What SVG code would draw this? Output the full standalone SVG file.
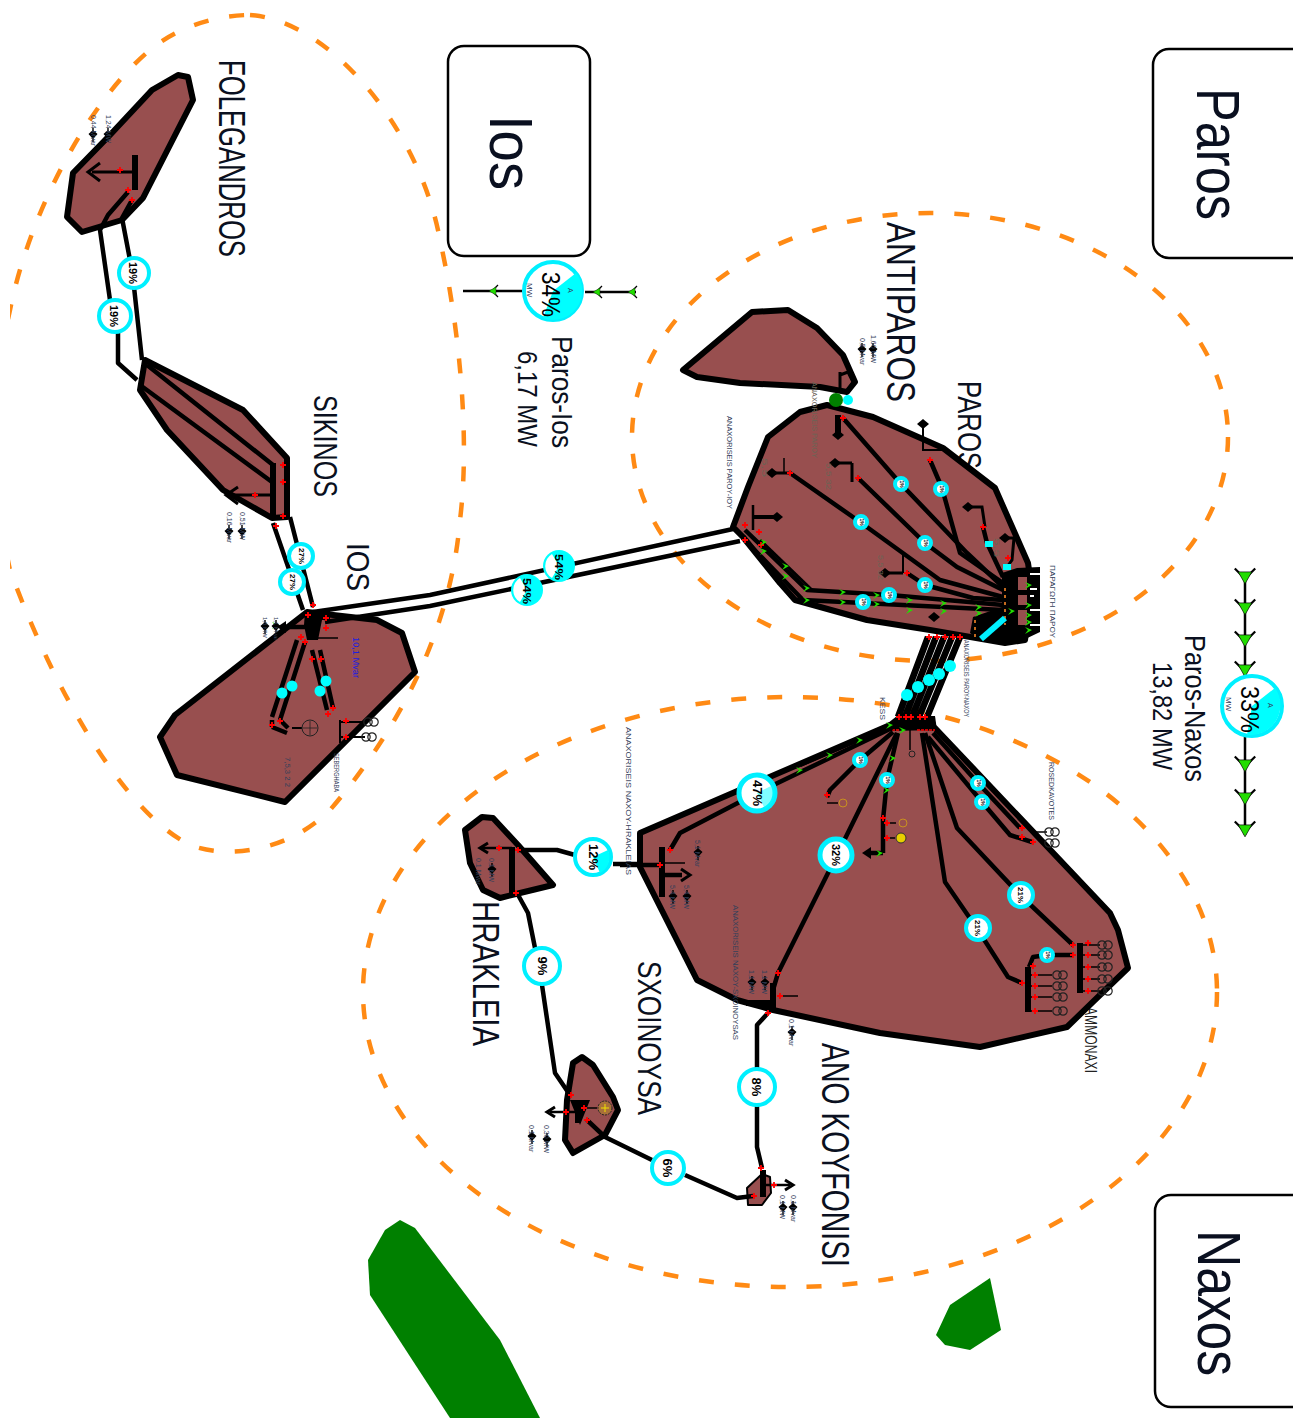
<svg xmlns="http://www.w3.org/2000/svg" width="1293" height="1418" viewBox="0 0 1293 1418">
<style>
text{font-family:"Liberation Sans",Arial,sans-serif;fill:#0a1020}
.big{font-size:62px}.reg{font-size:36px}.cap{font-size:29px}
.sm{font-size:7px;fill:#33405a}.gr{font-size:7px;fill:#6b6355}
.poly{fill:#984f4f;stroke:#000;stroke-width:6;stroke-linejoin:round}
.box{fill:#fff;stroke:#000;stroke-width:2.5}
.dash{fill:none;stroke:#ff8a14;stroke-width:4.5;stroke-dasharray:15 21}
.ln{fill:none;stroke:#000;stroke-width:4.5;stroke-linejoin:round}
.th{fill:none;stroke:#000;stroke-width:1.5}
.bus{fill:none;stroke:#000;stroke-width:6}
.gauge{fill:#fff;stroke:#00f0ff;stroke-width:4}
.thick{stroke-width:5}
.pie{fill:#00ffff}
.pct{font-weight:bold;fill:#000}
.dot{fill:#00ffff}
.open{fill:none;stroke:#000;stroke-width:3}
.bl{fill:#000}
</style>
<defs>
<clipPath id="page"><rect x="10" y="0" width="1283" height="1418"/></clipPath>
<g id="x"><path d="M-3 0H3M0-3V3" stroke="#f00" stroke-width="1.8"/></g>
<g id="ga"><path d="M-6-5L0 1L6-5" fill="none" stroke="#000" stroke-width="1.3"/><path d="M-4-3H4L0 4Z" fill="#22dd00" stroke="#000" stroke-width=".4"/></g>
<g id="gs"><path d="M-4-3L3 0L-4 4L-1 0Z" fill="#22dd00"/></g>
<g id="di"><path d="M0-7V7M-3.5-1L0-4L3.5-1L0 3Z" stroke="#000" stroke-width="1.4" fill="#000"/></g>
<g id="gen"><circle cx="-3" cy="0" r="4.2" fill="none" stroke="#222" stroke-width="1.2"/><circle cx="3" cy="0" r="4.2" fill="none" stroke="#222" stroke-width="1.2"/></g>
<g id="ah"><path d="M0 0L9-6V6Z" fill="#000"/></g>
<path id="hd" d="M-6 0L0-5L6 0L0 5Z" fill="#000"/>
</defs>

<g id="background-shapes">
<path fill="#008000" d="M400 1220L415 1228L500 1340L540 1418H450L370 1295L368 1260L385 1230Z"/>
<path fill="#008000" d="M990 1278L1001 1330L970 1350L945 1345L936 1335L950 1305Z"/>
<g clip-path="url(#page)">
<path class="dash" d="M250 15C330 20 420 130 440 240C460 330 470 440 460 520C450 640 390 740 330 810C290 850 230 860 190 845C120 810 50 680 10 570C-10 480-10 400 10 310C30 210 90 100 150 50C180 25 220 15 250 15Z"/>
</g>
<ellipse class="dash" cx="930" cy="437" rx="298" ry="224"/>
<ellipse class="dash" cx="790" cy="992" rx="427" ry="295"/>
</g>

<g id="titles">
<g id="box-paros"><rect class="box" x="1153" y="49" width="160" height="209" rx="16"/><text class="big" transform="translate(1197 88) rotate(90)" textLength="132" lengthAdjust="spacingAndGlyphs">Paros</text></g>
<g id="box-ios"><rect class="box" x="448" y="46" width="142" height="210" rx="16"/><text class="big" transform="translate(490 115) rotate(90)" textLength="75" lengthAdjust="spacingAndGlyphs">Ios</text></g>
<g id="box-naxos"><rect class="box" x="1155" y="1195" width="160" height="212" rx="16"/><text class="big" transform="translate(1198 1230) rotate(90)" textLength="146" lengthAdjust="spacingAndGlyphs">Naxos</text></g>
<text class="reg" transform="translate(219 60) rotate(90)" textLength="197" lengthAdjust="spacingAndGlyphs">FOLEGANDROS</text>
<text class="reg" style="font-size:40px" transform="translate(887 222) rotate(90)" textLength="180" lengthAdjust="spacingAndGlyphs">ANTIPAROS</text>
<text class="reg" style="font-size:34px" transform="translate(958 381) rotate(90)" textLength="88" lengthAdjust="spacingAndGlyphs">PAROS</text>
<text class="reg" style="font-size:34px" transform="translate(314 395) rotate(90)" textLength="102" lengthAdjust="spacingAndGlyphs">SIKINOS</text>
<text class="reg" style="font-size:32px" transform="translate(347 543) rotate(90)" textLength="48" lengthAdjust="spacingAndGlyphs">IOS</text>
<text class="reg" transform="translate(473 901) rotate(90)" textLength="145" lengthAdjust="spacingAndGlyphs">HRAKLEIA</text>
<text class="reg" style="font-size:33px" transform="translate(638 961) rotate(90)" textLength="154" lengthAdjust="spacingAndGlyphs">SXOINOYSA</text>
<text class="reg" style="font-size:38px" transform="translate(822 1043) rotate(90)" textLength="224" lengthAdjust="spacingAndGlyphs">ANO KOYFONISI</text>
<text style="font-size:16px;fill:#222" transform="translate(1085 1007) rotate(90)" textLength="66" lengthAdjust="spacingAndGlyphs">AMMONAXI</text>
<text class="cap" transform="translate(552 336) rotate(90)" textLength="112" lengthAdjust="spacingAndGlyphs">Paros-Ios</text>
<text class="cap" style="font-size:28px" transform="translate(518 351) rotate(90)" textLength="96" lengthAdjust="spacingAndGlyphs">6,17 MW</text>
<text class="cap" style="font-size:30px" transform="translate(1185 635) rotate(90)" textLength="147" lengthAdjust="spacingAndGlyphs">Paros-Naxos</text>
<text class="cap" style="font-size:28px" transform="translate(1153 662) rotate(90)" textLength="108" lengthAdjust="spacingAndGlyphs">13,82 MW</text>
</g>

<g id="node-antiparos"><path class="poly" d="M683 370L752 312L788 310L817 328L843 355L855 382L847 392L820 387L740 383L697 377Z"/></g>
<g id="node-paros"><path class="poly" d="M733 527L748 487L768 437L800 412L827 405L873 417L943 448L995 488L1028 563L1032 590L1025 640L1005 643L930 630L867 620L795 600L780 583L743 537Z"/></g>
<g id="node-naxos"><path class="poly" d="M640 833L890 725L935 728L1110 913L1118 930L1128 968L1100 995L1067 1027L980 1047L880 1033L773 1010L737 1000L697 980L640 867Z"/></g>
<g id="node-heraklia"><path class="poly" d="M465 830L482 817L493 818L518 845L553 885L520 893L500 898L483 890L470 863Z"/></g>
<g id="node-schoinoussa"><path class="poly" d="M573 1063L582 1057L593 1065L613 1097L618 1110L605 1135L573 1153L565 1140L567 1100Z"/></g>
<g id="node-koufonisi"><path class="poly" d="M747 1188L762 1174L770 1177L771 1193L762 1205L748 1205Z" style="stroke-width:2"/></g>
<g id="node-ios"><path class="poly" d="M160 737L175 715L307 612L377 620L402 633L415 672L285 802L177 775Z"/></g>
<g id="node-sikinos"><path class="poly" d="M145 360L243 410L287 458L287 517L272 518L223 490L167 430L140 390Z"/></g>
<g id="node-folegandros"><path class="poly" d="M178 75L188 77L193 100L143 198L122 220L82 232L67 217L73 173L110 135L152 90Z"/></g>

<g id="connectors">
<path class="ln" d="M843 418L900 483L967 553L1003 587"/>
<path class="ln" d="M930 460L942 488L960 553L1003 583"/>
<path class="ln" d="M858 478L925 543L957 567L1003 590"/>
<path class="ln" d="M790 473L860 522L940 580L1003 597"/>
<path class="ln" d="M907 573L925 585L973 598L1003 600"/>
<path class="ln" d="M745 530L807 590L890 595L1003 605"/>
<path class="ln" d="M745 540L803 600L863 603L1003 610"/>
<path class="th" style="stroke-width:3" d="M760 540L812 590"/>
<path class="ln" d="M983 527L987 543L1003 577"/>
<path class="open" d="M970 507H982L985 527"/><path class="open" d="M1005 538H1014L1012 560L1007 567"/>
<path class="th" d="M784 473V458"/><path class="open" d="M790 473H772"/>
<path class="open" d="M852 463V482M852 463H835"/><path class="th" style="stroke-width:2" d="M903 555V573"/><path class="open" d="M903 573H885"/>
<path class="th" style="stroke-width:2" d="M923 425V450H942"/>
<path class="bus" d="M838 415V433"/>
<path class="open" style="stroke-width:4" d="M752 517H775"/><path class="th" style="stroke-width:2.5" d="M753 505V530"/>
<path class="ln" style="stroke-width:3" d="M840 375L848 372L853 382L848 390M840 372V388"/>
<use href="#hd" transform="translate(838 435) rotate(0)"/><use href="#hd" x="923" y="424"/><use href="#hd" x="772" y="473"/><use href="#hd" x="835" y="463"/><use href="#hd" x="885" y="573"/><use href="#hd" x="968" y="507"/><use href="#hd" x="1005" y="538"/><use href="#hd" x="934" y="617"/><use href="#hd" x="777" y="517"/>
<path class="bl" d="M1002 573L1017 568L1040 567V632L1017 643H1003L980 640L970 633L973 617L1002 607Z"/>
<path fill="#984f4f" d="M1018 577H1027V590H1018ZM1018 595H1027V605H1018ZM1018 610H1027V625H1018Z"/>
<path stroke="#fff" stroke-width="2" d="M1030 574H1040M1030 589H1037M1030 596H1034M1030 610H1040M1030 625H1040"/>
<path stroke="#c46a1e" stroke-width="2" stroke-dasharray="3 4" d="M1005 588V625M975 620V638"/>
<path stroke="#00f0ff" stroke-width="6" d="M981 639L1005 618"/>
<path class="dot" d="M985 541H993V547H985ZM1003 564H1011V570H1003Z"/>
<path class="ln" style="stroke-width:6.5" d="M928 637L898 717M936 637L905 717M944 637L912 717M952 637L919 717M960 637L927 717"/>
<circle class="dot" cx="907" cy="695" r="6"/><circle class="dot" cx="918" cy="687" r="6"/><circle class="dot" cx="929" cy="680" r="6"/><circle class="dot" cx="939" cy="674" r="6"/><circle class="dot" cx="950" cy="666" r="6"/>
<path class="bl" d="M888 723L897 716L935 716L937 730L890 731Z"/>
<path stroke="#f00" stroke-width="1.5" stroke-dasharray="3 1" d="M880 730H900M917 730H935"/>
<path class="ln" d="M892 728L757 793L680 833L670 850"/>
<path class="ln" d="M893 725L800 765"/>
<path class="ln" d="M893 732L860 760L830 790L827 797"/>
<path class="ln" d="M897 733L837 855L778 973L773 990L773 1007"/>
<path class="ln" d="M898 733L887 780L883 820L883 853"/>
<path class="ln" d="M922 733L945 882L978 930L1008 977L1022 983"/>
<path class="ln" d="M925 733L957 828L1020 895L1073 945"/>
<path class="ln" d="M933 733L978 783L1020 828"/>
<path class="ln" d="M928 737L982 802L1010 835L1032 842"/>
<path class="bus" d="M1080 943V993M1028 967V1012M662 847V897M773 983V1008M512 847V893M578 1100V1123M763 1170V1197M135 155V190M273 463V520M746 1003H773"/>
<path class="ln" d="M1073 955H1047L1033 957L1029 967"/>
<path class="th" d="M1080 945H1100M1080 955H1100M1080 967H1100M1080 979H1100M1080 991H1100M1028 975H1052M1028 986H1052M1028 997H1052M1028 1011H1052M1030 832H1047"/>
<use href="#gen" x="1105" y="945"/><use href="#gen" x="1105" y="955"/><use href="#gen" x="1105" y="967"/><use href="#gen" x="1105" y="979"/><use href="#gen" x="1105" y="991"/>
<use href="#gen" x="1060" y="975"/><use href="#gen" x="1060" y="986"/><use href="#gen" x="1060" y="997"/><use href="#gen" x="1060" y="1011"/>
<use href="#gen" x="1052" y="832"/><use href="#gen" x="1052" y="843"/>
<path class="th" d="M883 823H896M883 838H895M827 803H838M662 863H685M780 996H798M910 728V750"/>
<circle cx="901" cy="838" r="5" fill="#e8d000" stroke="#333"/><circle cx="903" cy="823" r="4" fill="none" stroke="#c89020"/><circle cx="843" cy="803" r="4" fill="none" stroke="#c89020"/><circle cx="912" cy="754" r="3" fill="none" stroke="#222"/>
<path class="ln" d="M883 853H870"/><use href="#ah" x="862" y="853"/>
<path class="ln" d="M662 875H682"/><path d="M681 869L690 875L681 881" class="open"/>
<path class="ln" d="M620 865H662"/>
<path class="ln" d="M768 1013L757 1025V1070M757 1105V1147L762 1168"/>
<path class="th" style="stroke-width:2.5" d="M512 848H482"/><path class="open" d="M488 843L480 848L488 853"/>
<path class="ln" d="M518 850H557L575 855M613 864H640"/>
<path class="ln" d="M517 893L528 913L535 948M542 985L555 1073L570 1095"/>
<path class="th" style="stroke-width:2.5" d="M578 1112H550"/><path class="open" d="M555 1107L547 1112L555 1117"/>
<path class="th" d="M585 1108H597"/><circle cx="605" cy="1108" r="7" fill="#a8703a" stroke="#222" stroke-dasharray="2 1"/><path d="M601 1108H609M605 1104V1112" stroke="#f0e000"/>
<path class="bl" d="M570 1100H590L580 1125Z"/>
<path class="ln" d="M587 1120L605 1137L652 1160M685 1175L737 1198L753 1196"/>
<path class="th" style="stroke-width:2.5" d="M763 1185H790"/><path class="open" d="M785 1180L793 1185L785 1190"/>
<path class="ln" d="M313 612L430 595L733 529M325 622L430 606L740 541"/>
<path class="ln" d="M313 607L290 517M303 610L273 523"/>
<path class="bl" d="M305 611H330V620H322L318 640H307L304 625Z"/>
<path class="ln" d="M310 627H285"/><use href="#ah" x="277" y="627"/>
<path class="th" d="M313 638H338"/>
<path class="ln" d="M297 640L272 717M305 642L280 720M272 727L287 733M272 720L272 727M280 720L288 728"/>
<path class="ln" d="M312 650L327 710M320 650L333 708"/>
<path class="th" style="stroke-width:2" d="M340 720V743M340 722H367M340 737H365M292 728H302"/>
<use href="#gen" x="371" y="722"/><use href="#gen" x="369" y="737"/>
<circle cx="310" cy="728" r="8" fill="none" stroke="#222"/><path d="M310 721V735M303 728H317" stroke="#222" stroke-width=".8"/>
<circle class="dot" cx="282" cy="693" r="5.5"/><circle class="dot" cx="292" cy="686" r="5.5"/><circle class="dot" cx="320" cy="691" r="5.5"/><circle class="dot" cx="326" cy="681" r="5.5"/>
<path class="ln" d="M147 365L273 465M140 385L272 482"/>
<path class="ln" style="stroke-width:3" d="M273 495H230"/><path class="open" d="M238 487L226 495L238 504"/>
<path class="ln" d="M128 192L108 215L100 230L110 300M118 330L118 363L137 380"/>
<path class="ln" d="M132 200L122 218L130 260M134 287L142 360"/>
<path class="ln" style="stroke-width:3" d="M135 172H92"/><path class="open" d="M100 163L88 172L100 181"/>
<g>
<use href="#x" x="745" y="525"/><use href="#x" x="745" y="540"/><use href="#x" x="759" y="532"/><use href="#x" x="761" y="545"/>
<use href="#x" x="790" y="473"/><use href="#x" x="858" y="478"/><use href="#x" x="843" y="418"/><use href="#x" x="930" y="460"/><use href="#x" x="907" y="573"/><use href="#x" x="983" y="527"/><use href="#x" x="1008" y="558"/>
<use href="#x" x="929" y="637"/><use href="#x" x="937" y="637"/><use href="#x" x="945" y="637"/><use href="#x" x="953" y="637"/><use href="#x" x="960" y="637"/>
<use href="#x" x="899" y="717"/><use href="#x" x="906" y="717"/><use href="#x" x="911" y="717"/><use href="#x" x="920" y="717"/><use href="#x" x="925" y="717"/>
<use href="#x" x="670" y="850"/><use href="#x" x="660" y="865"/><use href="#x" x="827" y="795"/><use href="#x" x="883" y="818"/><use href="#x" x="778" y="973"/><use href="#x" x="780" y="996"/><use href="#x" x="768" y="1013"/>
<use href="#x" x="1022" y="983"/><use href="#x" x="1073" y="945"/><use href="#x" x="1073" y="955"/><use href="#x" x="1033" y="966"/><use href="#x" x="1022" y="828"/><use href="#x" x="1022" y="837"/><use href="#x" x="1033" y="842"/>
<use href="#x" x="1088" y="943"/><use href="#x" x="1088" y="955"/><use href="#x" x="1088" y="967"/><use href="#x" x="1088" y="979"/><use href="#x" x="1088" y="991"/>
<use href="#x" x="1035" y="975"/><use href="#x" x="1035" y="986"/><use href="#x" x="1035" y="997"/><use href="#x" x="1035" y="1011"/><use href="#x" x="887" y="823"/><use href="#x" x="887" y="838"/>
<use href="#x" x="518" y="850"/><use href="#x" x="516" y="893"/><use href="#x" x="499" y="848"/><use href="#x" x="571" y="1095"/><use href="#x" x="584" y="1108"/><use href="#x" x="587" y="1120"/><use href="#x" x="566" y="1112"/>
<use href="#x" x="761" y="1168"/><use href="#x" x="754" y="1196"/><use href="#x" x="774" y="1185"/>
<use href="#x" x="308" y="615"/><use href="#x" x="326" y="618"/><use href="#x" x="326" y="628"/><use href="#x" x="313" y="605"/><use href="#x" x="301" y="637"/><use href="#x" x="305" y="642"/><use href="#x" x="312" y="659"/><use href="#x" x="321" y="659"/><use href="#x" x="333" y="708"/><use href="#x" x="328" y="714"/><use href="#x" x="272" y="725"/><use href="#x" x="280" y="721"/><use href="#x" x="346" y="721"/><use href="#x" x="346" y="737"/>
<use href="#x" x="283" y="465"/><use href="#x" x="283" y="482"/><use href="#x" x="255" y="495"/><use href="#x" x="283" y="516"/><use href="#x" x="276" y="526"/>
<use href="#x" x="120" y="170"/><use href="#x" x="128" y="190"/><use href="#x" x="132" y="200"/>
</g>
<g>
<use href="#gs" x="764" y="542"/><use href="#gs" x="764" y="551"/><use href="#gs" x="786" y="566"/><use href="#gs" x="786" y="576"/><use href="#gs" x="807" y="588"/><use href="#gs" x="807" y="600"/><use href="#gs" x="843" y="592"/><use href="#gs" x="843" y="602"/><use href="#gs" x="877" y="595"/><use href="#gs" x="877" y="604"/><use href="#gs" x="910" y="600"/><use href="#gs" x="910" y="610"/><use href="#gs" x="944" y="603"/><use href="#gs" x="944" y="611"/><use href="#gs" x="979" y="607"/><use href="#gs" x="979" y="613"/><use href="#gs" x="1012" y="611"/>
<use href="#gs" x="1029" y="585"/><use href="#gs" x="1029" y="605"/><use href="#gs" x="1029" y="615"/><use href="#gs" x="1029" y="622"/><use href="#gs" x="1029" y="630"/>
<use href="#gs" x="890" y="725"/><use href="#gs" x="903" y="730"/><use href="#gs" x="860" y="740"/><use href="#gs" x="830" y="755"/><use href="#gs" x="800" y="770"/><use href="#gs" x="893" y="758"/><use href="#gs" x="887" y="790"/><use href="#gs" x="880" y="853"/><use href="#gs" x="276" y="625"/>
</g>
</g>

<g id="gauges">
<g id="g54a"><circle cx="559" cy="566" r="16" fill="#00ffff"/><path fill="#fff" d="M559 566L552 554A14 14 0 0 0 552 578Z"/><text class="pct" font-size="11" transform="translate(555 554) rotate(90)" textLength="26" lengthAdjust="spacingAndGlyphs">54%</text></g>
<g id="g54b"><circle cx="527" cy="590" r="16" fill="#00ffff"/><path fill="#fff" d="M527 590L520 578A14 14 0 0 0 520 602Z"/><text class="pct" font-size="11" transform="translate(523 578) rotate(90)" textLength="26" lengthAdjust="spacingAndGlyphs">54%</text></g>
<g id="g19a"><circle class="gauge" cx="134" cy="273" r="15"/><text class="pct" font-size="11" text-anchor="middle" transform="translate(129 273) rotate(90)">19%</text></g>
<g id="g19b"><circle class="gauge" cx="115" cy="316" r="16"/><text class="pct" font-size="11" text-anchor="middle" transform="translate(110 316) rotate(90)">19%</text></g>
<g id="g27a"><circle class="gauge" cx="301" cy="556" r="12"/><text class="pct" font-size="8" text-anchor="middle" transform="translate(299 556) rotate(90)">27%</text></g>
<g id="g27b"><circle class="gauge" cx="292" cy="582" r="12"/><text class="pct" font-size="8" text-anchor="middle" transform="translate(290 582) rotate(90)">27%</text></g>
<g id="g47"><circle class="gauge thick" cx="757" cy="793" r="18"/><path class="pie" d="M757 793L773 785A18 18 0 0 1 765 809Z" opacity=".5"/><text class="pct" font-size="13" text-anchor="middle" transform="translate(753 793) rotate(90)">47%</text></g>
<g id="g32"><circle class="gauge thick" cx="836" cy="855" r="16"/><text class="pct" font-size="11" text-anchor="middle" transform="translate(832 855) rotate(90)">32%</text></g>
<g id="g21a"><circle class="gauge" cx="1021" cy="895" r="12"/><text class="pct" font-size="8" text-anchor="middle" transform="translate(1018 895) rotate(90)">21%</text></g>
<g id="g21b"><circle class="gauge" cx="978" cy="928" r="12"/><text class="pct" font-size="8" text-anchor="middle" transform="translate(975 928) rotate(90)">21%</text></g>
<g id="g12"><circle class="gauge" cx="593" cy="857" r="18"/><path class="pie" d="M593 857L608 850A18 18 0 0 1 600 873Z"/><text class="pct" font-size="13" text-anchor="middle" transform="translate(589 857) rotate(90)">12%</text></g>
<g id="g9"><circle class="gauge" cx="542" cy="966" r="18"/><text class="pct" font-size="13" text-anchor="middle" transform="translate(538 966) rotate(90)">9%</text></g>
<g id="g8"><circle class="gauge" cx="757" cy="1087" r="18"/><text class="pct" font-size="13" text-anchor="middle" transform="translate(752 1087) rotate(90)">8%</text></g>
<g id="g6"><circle class="gauge" cx="668" cy="1168" r="16"/><text class="pct" font-size="13" text-anchor="middle" transform="translate(663 1168) rotate(90)">6%</text></g>
<g id="smallg" font-size="5">
<g><circle class="gauge" cx="901" cy="484" r="6"/><text class="pct" text-anchor="middle" transform="translate(900 484) rotate(90)">1%</text></g>
<g><circle class="gauge" cx="941" cy="489" r="6"/><text class="pct" text-anchor="middle" transform="translate(940 489) rotate(90)">1%</text></g>
<g><circle class="gauge" cx="861" cy="522" r="6"/><text class="pct" text-anchor="middle" transform="translate(860 522) rotate(90)">1%</text></g>
<g><circle class="gauge" cx="925" cy="543" r="6"/><text class="pct" text-anchor="middle" transform="translate(924 543) rotate(90)">1%</text></g>
<g><circle class="gauge" cx="925" cy="585" r="6"/><text class="pct" text-anchor="middle" transform="translate(924 585) rotate(90)">1%</text></g>
<g><circle class="gauge" cx="889" cy="595" r="6"/><text class="pct" text-anchor="middle" transform="translate(888 595) rotate(90)">1%</text></g>
<g><circle class="gauge" cx="863" cy="602" r="6"/><text class="pct" text-anchor="middle" transform="translate(862 602) rotate(90)">1%</text></g>
<g><circle class="gauge" cx="860" cy="760" r="6"/><text class="pct" text-anchor="middle" transform="translate(859 760) rotate(90)">1%</text></g>
<g><circle class="gauge" cx="887" cy="780" r="6"/><text class="pct" text-anchor="middle" transform="translate(886 780) rotate(90)">1%</text></g>
<g><circle class="gauge" cx="978" cy="783" r="6"/><text class="pct" text-anchor="middle" transform="translate(977 783) rotate(90)">1%</text></g>
<g><circle class="gauge" cx="982" cy="802" r="6"/><text class="pct" text-anchor="middle" transform="translate(981 802) rotate(90)">1%</text></g>
<g><circle class="gauge" cx="1047" cy="955" r="6"/><text class="pct" text-anchor="middle" transform="translate(1046 955) rotate(90)">1%</text></g>
</g>
<circle fill="#008000" cx="836" cy="400" r="7"/><circle class="dot" cx="848" cy="400" r="5"/>
</g>

<g id="tie-paros-ios">
<path class="th" style="stroke-width:2.5" d="M463 291H522M585 292H636"/>
<use href="#ga" transform="translate(493 291) rotate(90)"/><use href="#ga" transform="translate(597 292) rotate(90)"/><use href="#ga" transform="translate(632 292) rotate(90)"/>
<circle class="gauge" cx="553" cy="291" r="29"/>
<path class="pie" d="M553 291L576 273A29 29 0 0 1 543 318Z"/>
<text class="pct" style="font-weight:normal;font-size:25px" transform="translate(542 272) rotate(90)" textLength="45" lengthAdjust="spacingAndGlyphs">34%</text>
<text class="sm" style="font-size:8px" transform="translate(527 283) rotate(90)">MW</text>
<text class="sm" transform="translate(568 288) rotate(90)">A</text>
</g>
<g id="tie-paros-naxos">
<path class="th" style="stroke-width:2.5" d="M1245 572V835"/>
<use href="#ga" transform="translate(1245 577) scale(1.7)"/><use href="#ga" transform="translate(1245 608) scale(1.7)"/><use href="#ga" transform="translate(1245 640) scale(1.7)"/><use href="#ga" transform="translate(1245 670) scale(1.7)"/><use href="#ga" transform="translate(1245 765) scale(1.7)"/><use href="#ga" transform="translate(1245 798) scale(1.7)"/><use href="#ga" transform="translate(1245 830) scale(1.7)"/>
<circle class="gauge" cx="1252" cy="706" r="30"/>
<path class="pie" d="M1252 706L1275 688A30 30 0 0 1 1247 735Z"/>
<text class="pct" style="font-weight:normal;font-size:25px" transform="translate(1241 686) rotate(90)" textLength="47" lengthAdjust="spacingAndGlyphs">33%</text>
<text class="sm" style="font-size:8px" transform="translate(1226 697) rotate(90)">MW</text>
<text class="sm" transform="translate(1268 703) rotate(90)">A</text>
</g>

<g id="small-labels">
<use href="#di" x="873" y="350"/><use href="#di" x="862" y="350"/>
<use href="#di" x="108" y="135"/><use href="#di" x="93" y="135"/>
<use href="#di" x="242" y="532"/><use href="#di" x="229" y="532"/>
<use href="#di" x="265" y="627"/><use href="#di" x="276" y="627"/>
<use href="#di" x="698" y="853"/><use href="#di" x="673" y="897"/><use href="#di" x="687" y="897"/>
<use href="#di" x="752" y="983"/><use href="#di" x="765" y="983"/><use href="#di" x="792" y="1033"/>
<use href="#di" x="492" y="870"/><use href="#di" x="532" y="1137"/><use href="#di" x="547" y="1140"/><use href="#di" x="783" y="1208"/><use href="#di" x="793" y="1208"/>
<text class="sm" transform="translate(871 335) rotate(90)">1,60 MW</text><text class="sm" transform="translate(860 338) rotate(90)">0,5 Mvar</text>
<text class="sm" transform="translate(106 115) rotate(90)">1,24 MW</text><text class="sm" transform="translate(91 115) rotate(90)">0,44 Mvar</text>
<text class="sm" transform="translate(240 512) rotate(90)">0,51 MW</text><text class="sm" transform="translate(227 512) rotate(90)">0,16 Mvar</text>
<text class="sm" style="font-size:6px" transform="translate(263 617) rotate(90)">1,8 MW</text><text class="sm" style="font-size:6px" transform="translate(274 617) rotate(90)">1,1 Mvar</text>
<text class="sm" style="fill:#2020e0;font-size:9px" transform="translate(353 637) rotate(90)" textLength="41" lengthAdjust="spacingAndGlyphs">10,1 Mvar</text>
<text class="sm" transform="translate(285 757) rotate(90)" textLength="30" lengthAdjust="spacingAndGlyphs">7,5,3 2 2</text>
<text class="sm" transform="translate(334 753) rotate(90)" textLength="39" lengthAdjust="spacingAndGlyphs">SEBERGHABA</text>
<text class="sm" transform="translate(727 416) rotate(90)" textLength="93" lengthAdjust="spacingAndGlyphs">ANAXORISEIS PAROY-IOY</text>
<text class="gr" transform="translate(812 382) rotate(90)" textLength="76" lengthAdjust="spacingAndGlyphs">ANAXORISEIS PAROY</text>
<text class="gr" transform="translate(762 458) rotate(90)" textLength="19" lengthAdjust="spacingAndGlyphs">5,5</text>
<text class="gr" transform="translate(826 463) rotate(90)" textLength="27" lengthAdjust="spacingAndGlyphs">5,5 32</text>
<text class="gr" transform="translate(878 555) rotate(90)" textLength="25" lengthAdjust="spacingAndGlyphs">5,5 32</text>
<text class="gr" transform="translate(994 538) rotate(90)" textLength="19" lengthAdjust="spacingAndGlyphs">5,5</text>
<text class="sm" transform="translate(1050 565) rotate(90)" textLength="73" lengthAdjust="spacingAndGlyphs">ΠΑΡΑΓΩΓΗ ΠΑΡΟΥ</text>
<text class="sm" transform="translate(964 640) rotate(90)" textLength="77" lengthAdjust="spacingAndGlyphs">ANAXORISEIS PAROY-NAXOY</text>
<text class="sm" transform="translate(880 697) rotate(90)" textLength="23" lengthAdjust="spacingAndGlyphs">KESS</text>
<text class="sm" transform="translate(626 727) rotate(90)" textLength="148" lengthAdjust="spacingAndGlyphs">ANAXORISEIS NAXOY-HRAKLEIAS</text>
<text class="sm" transform="translate(733 905) rotate(90)" textLength="135" lengthAdjust="spacingAndGlyphs">ANAXORISEIS NAXOY-SXOINOYSAS</text>
<text class="sm" transform="translate(1049 762) rotate(90)" textLength="58" lengthAdjust="spacingAndGlyphs">ROSEDKAVOTES</text>
<text class="sm" transform="translate(695 840) rotate(90)">5,1 Mvar</text>
<text class="sm" transform="translate(670 885) rotate(90)">5,4 MW</text><text class="sm" transform="translate(684 885) rotate(90)">5,4 MW</text>
<text class="sm" transform="translate(749 970) rotate(90)">1,1 MW</text><text class="sm" transform="translate(762 970) rotate(90)">1,1 MW</text>
<text class="sm" transform="translate(789 1019) rotate(90)">0,1 Mvar</text>
<text class="sm" transform="translate(489 858) rotate(90)">0,1 MW</text>
<text class="sm" transform="translate(476 858) rotate(90)">0,1 Mvar</text>
<text class="sm" transform="translate(529 1125) rotate(90)">0,1 Mvar</text><text class="sm" transform="translate(544 1125) rotate(90)">0,30 MW</text>
<text class="sm" transform="translate(780 1195) rotate(90)">0,1 MW</text><text class="sm" transform="translate(791 1195) rotate(90)">0,1 Mvar</text>
</g>
</svg>
